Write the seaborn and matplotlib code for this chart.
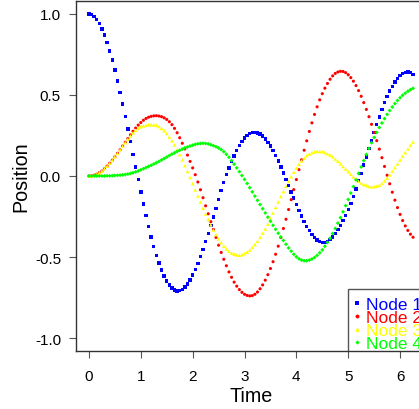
import numpy as np
import pandas as pd
import matplotlib
matplotlib.use("Agg")
import matplotlib.pyplot as plt
import seaborn as sns
from matplotlib.lines import Line2D
from matplotlib.patches import Rectangle

# ---------------- data ----------------
time_step = 0.05
n_points = 126
time = np.round(np.arange(n_points) * time_step, 2)

node1 = [1.000, 0.996, 0.984, 0.966, 0.941, 0.908, 0.870, 0.824, 0.772, 0.715,
         0.653, 0.587, 0.517, 0.444, 0.368, 0.290, 0.212, 0.133, 0.055, -0.022,
         -0.099, -0.174, -0.245, -0.313, -0.376, -0.434, -0.489, -0.537, -0.580, -0.617,
         -0.648, -0.673, -0.691, -0.703, -0.709, -0.708, -0.701, -0.686, -0.666, -0.641,
         -0.611, -0.577, -0.539, -0.497, -0.452, -0.404, -0.355, -0.304, -0.252, -0.200,
         -0.145, -0.090, -0.040, 0.008, 0.050, 0.088, 0.124, 0.158, 0.188, 0.213,
         0.234, 0.250, 0.261, 0.267, 0.269, 0.266, 0.258, 0.246, 0.229, 0.208,
         0.184, 0.156, 0.125, 0.092, 0.056, 0.019, -0.020, -0.059, -0.098, -0.137,
         -0.175, -0.212, -0.247, -0.280, -0.310, -0.337, -0.361, -0.381, -0.396, -0.406,
         -0.411, -0.410, -0.404, -0.392, -0.376, -0.356, -0.332, -0.305, -0.275, -0.243,
         -0.208, -0.169, -0.126, -0.080, -0.032, 0.017, 0.067, 0.118, 0.168, 0.218,
         0.267, 0.316, 0.364, 0.410, 0.452, 0.490, 0.524, 0.554, 0.580, 0.602,
         0.619, 0.632, 0.640, 0.642, 0.637, 0.626]

node2 = [0.000, 0.001, 0.005, 0.011, 0.020, 0.031, 0.045, 0.061, 0.079, 0.098,
         0.118, 0.140, 0.162, 0.185, 0.208, 0.231, 0.254, 0.276, 0.296, 0.314,
         0.330, 0.344, 0.355, 0.363, 0.368, 0.371, 0.372, 0.370, 0.366, 0.359,
         0.349, 0.335, 0.317, 0.294, 0.267, 0.236, 0.202, 0.167, 0.129, 0.090,
         0.050, 0.008, -0.037, -0.085, -0.134, -0.184, -0.233, -0.282, -0.330, -0.379,
         -0.427, -0.472, -0.514, -0.554, -0.592, -0.625, -0.655, -0.680, -0.701, -0.718,
         -0.730, -0.737, -0.740, -0.738, -0.730, -0.716, -0.696, -0.672, -0.643, -0.609,
         -0.571, -0.529, -0.483, -0.433, -0.380, -0.324, -0.267, -0.207, -0.146, -0.084,
         -0.022, 0.039, 0.100, 0.159, 0.217, 0.275, 0.328, 0.380, 0.427, 0.470,
         0.508, 0.542, 0.571, 0.597, 0.618, 0.633, 0.642, 0.646, 0.645, 0.638,
         0.625, 0.607, 0.585, 0.558, 0.527, 0.492, 0.453, 0.411, 0.366, 0.319,
         0.269, 0.218, 0.166, 0.113, 0.059, 0.005, -0.048, -0.100, -0.149, -0.195,
         -0.237, -0.275, -0.308, -0.336, -0.359, -0.378]

node3 = [0.000, 0.001, 0.005, 0.011, 0.020, 0.031, 0.045, 0.061, 0.079, 0.098,
         0.118, 0.140, 0.162, 0.184, 0.206, 0.227, 0.247, 0.266, 0.282, 0.295,
         0.304, 0.310, 0.314, 0.316, 0.317, 0.317, 0.313, 0.305, 0.294, 0.280,
         0.262, 0.241, 0.218, 0.192, 0.163, 0.132, 0.099, 0.064, 0.028, -0.009,
         -0.047, -0.085, -0.123, -0.161, -0.198, -0.234, -0.269, -0.302, -0.333, -0.362,
         -0.388, -0.411, -0.432, -0.450, -0.464, -0.475, -0.483, -0.487, -0.488, -0.485,
         -0.479, -0.469, -0.457, -0.441, -0.423, -0.402, -0.379, -0.353, -0.326, -0.297,
         -0.262, -0.228, -0.194, -0.160, -0.127, -0.095, -0.063, -0.033, -0.004, 0.024,
         0.049, 0.072, 0.093, 0.110, 0.125, 0.136, 0.144, 0.149, 0.152, 0.152,
         0.150, 0.145, 0.138, 0.129, 0.118, 0.105, 0.091, 0.075, 0.059, 0.043,
         0.027, 0.011, -0.005, -0.019, -0.032, -0.043, -0.052, -0.059, -0.064, -0.066,
         -0.066, -0.063, -0.057, -0.046, -0.031, -0.013, 0.007, 0.029, 0.052, 0.075,
         0.099, 0.122, 0.145, 0.167, 0.189, 0.210]

node4 = [0.000, 0.000, 0.000, 0.000, 0.000, 0.000, 0.000, 0.001, 0.001, 0.002,
         0.003, 0.004, 0.005, 0.007, 0.009, 0.012, 0.016, 0.020, 0.025, 0.031,
         0.038, 0.045, 0.052, 0.059, 0.066, 0.074, 0.082, 0.090, 0.099, 0.108,
         0.117, 0.126, 0.135, 0.143, 0.151, 0.159, 0.166, 0.173, 0.179, 0.185,
         0.190, 0.195, 0.199, 0.201, 0.202, 0.201, 0.198, 0.193, 0.187, 0.180,
         0.173, 0.163, 0.150, 0.134, 0.116, 0.095, 0.073, 0.050, 0.027, 0.003,
         -0.021, -0.046, -0.072, -0.098, -0.124, -0.150, -0.176, -0.202, -0.228, -0.254,
         -0.279, -0.304, -0.329, -0.353, -0.376, -0.398, -0.421, -0.444, -0.464, -0.483,
         -0.499, -0.511, -0.519, -0.523, -0.523, -0.519, -0.512, -0.503, -0.490, -0.474,
         -0.456, -0.434, -0.410, -0.384, -0.355, -0.324, -0.291, -0.257, -0.221, -0.183,
         -0.145, -0.105, -0.065, -0.024, 0.016, 0.056, 0.095, 0.133, 0.170, 0.205,
         0.238, 0.269, 0.299, 0.327, 0.354, 0.380, 0.404, 0.426, 0.447, 0.466,
         0.483, 0.498, 0.511, 0.523, 0.533, 0.541]

node_names = ["Node 1", "Node 2", "Node 3", "Node 4"]
x_ticks = [0, 1, 2, 3, 4, 5, 6]
y_ticks = [-1.0, -0.5, 0.0, 0.5, 1.0]
y_tick_labels = ["-1.0", "-0.5", "0.0", "0.5", "1.0"]

# ---------------- styling ----------------
colors = {"Node 1": "#0000FF", "Node 2": "#FF0000", "Node 3": "#FFFF00", "Node 4": "#00FF00"}
markers = {"Node 1": "s", "Node 2": "o", "Node 3": "^", "Node 4": "D"}
sizes = {"Node 1": 6.0, "Node 2": 5.0, "Node 3": 7.0, "Node 4": 4.2}

sns.set_style("ticks")
plt.rcParams["font.family"] = ["Liberation Sans", "DejaVu Sans"]
plt.rcParams["axes.unicode_minus"] = False

df = pd.concat([
    pd.DataFrame({"Time": time, "Position": vals, "Node": name})
    for name, vals in zip(node_names, [node1, node2, node3, node4])
], ignore_index=True)

W, H = 419, 410
fig = plt.figure(figsize=(W / 100, H / 100), dpi=100)
ax_l, ax_r, ax_t, ax_b = 76, 426, 2, 352
ax = fig.add_axes([ax_l / W, 1 - ax_b / H, (ax_r - ax_l) / W, (ax_b - ax_t) / H])

sns.scatterplot(data=df, x="Time", y="Position", hue="Node", style="Node", size="Node",
                palette=colors, markers=markers, sizes=sizes, linewidth=0,
                edgecolor="none", legend=False, ax=ax)

ax.set_xlim(-0.25, 6.5)
ax.set_ylim(-1.08, 1.08)
ax.set_xticks(x_ticks)
ax.set_xticklabels([str(v) for v in x_ticks])
ax.set_yticks(y_ticks)
ax.set_yticklabels(y_tick_labels)

spine_color = "#333333"
for s in ax.spines.values():
    s.set_color(spine_color)
    s.set_linewidth(1.0)

ax.tick_params(axis="both", direction="out", length=4.8, width=0.8,
               color="#555555", labelsize=11, labelcolor="black")
ax.tick_params(axis="x", pad=8.5)
ax.tick_params(axis="y", pad=6.0)

ax.set_xlabel("Time", fontsize=14.2, labelpad=1.8, color="black")
ax.set_ylabel("Position", fontsize=14.2, labelpad=3.5, color="black")

# legend frame (bottom right, touching the plot border)
frame_left = (348 - ax_l) / (ax_r - ax_l)
frame_top = (ax_b - 289.5) / (ax_b - ax_t)
ax.add_patch(Rectangle((frame_left, -0.02), 0.5, frame_top + 0.02,
                       transform=ax.transAxes, fill=False,
                       edgecolor="#555555", linewidth=1.0, clip_on=True, zorder=5))

handles = [Line2D([], [], linestyle="", marker=markers[n], color=colors[n],
                  markersize=ms, markeredgewidth=0)
           for n, ms in zip(node_names, [2.8, 2.8, 3.4, 2.2])]
leg = ax.legend(handles, node_names, loc="upper left",
                bbox_to_anchor=((351.5 - ax_l) / (ax_r - ax_l), (ax_b - 297.5) / (ax_b - ax_t)),
                frameon=False, borderpad=0, borderaxespad=0,
                handlelength=0.63, handletextpad=0.18, labelspacing=-0.12,
                fontsize=12.5)
for txt, n in zip(leg.get_texts(), node_names):
    txt.set_color(colors[n])

fig.savefig("out.png", dpi=100)
